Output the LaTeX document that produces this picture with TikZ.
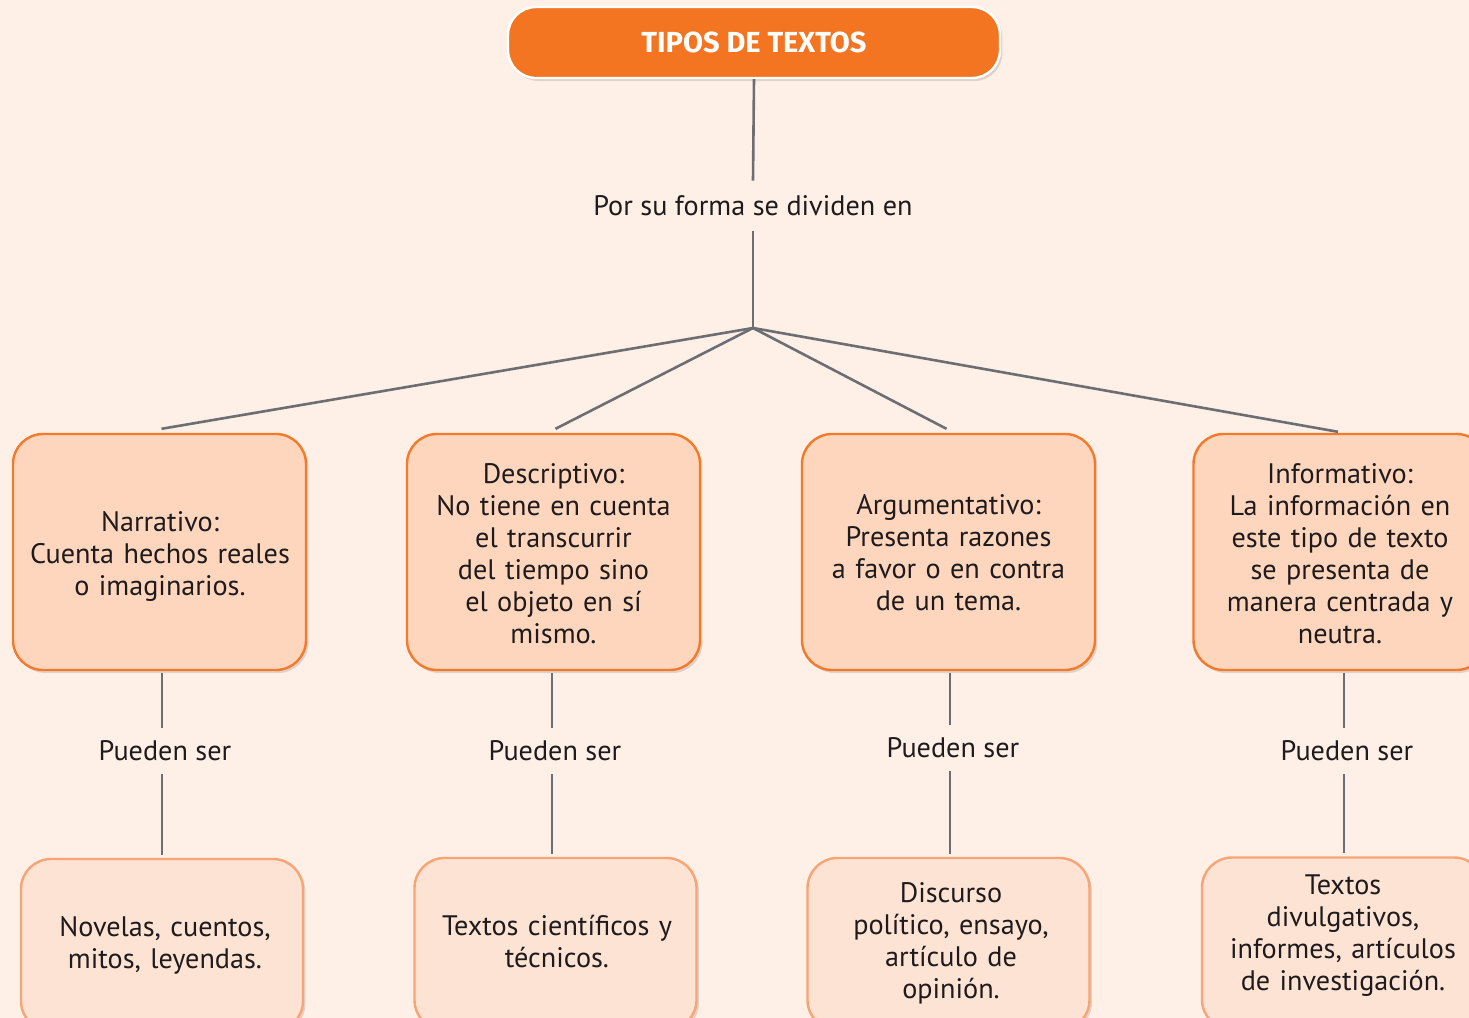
\documentclass[tikz,border=0pt]{standalone}
\usepackage{fontspec}
\setmainfont{PT Sans}
\newfontfamily\titlefont{Fira Sans}
\usetikzlibrary{shadows,calc}
\definecolor{bg}{HTML}{FEF0E7}
\definecolor{titlefill}{HTML}{F47521}
\definecolor{upfill}{HTML}{FDD6BD}
\definecolor{upborder}{HTML}{F37A2A}
\definecolor{lowfill}{HTML}{FDE3D4}
\definecolor{lowborder}{HTML}{F8A474}
\definecolor{linegray}{HTML}{6D6E71}
\definecolor{ink}{HTML}{1F1B1C}
\newcommand{\bodyfont}{\fontsize{14.1}{16}\selectfont}
\begin{document}
\begin{tikzpicture}[x=0.5pt,y=-0.5pt,
  conn/.style={draw=linegray,line width=1.3pt},
  shad/.style={drop shadow={shadow xshift=1.2pt,shadow yshift=-1.5pt,opacity=0.12,fill=black}},
  titlebox/.style={draw=white,line width=1.2pt,fill=titlefill,rounded corners=14pt,
    minimum width=246pt,minimum height=35.5pt,inner sep=0pt,text=white,
    font=\titlefont\bfseries\fontsize{14.5}{17}\selectfont,shad},
  upbox/.style={draw=upborder,line width=1.2pt,fill=upfill,rounded corners=15pt,
    minimum width=146.5pt,minimum height=118pt,inner sep=0pt,shad},
  lowbox/.style={draw=lowborder,line width=1.2pt,fill=lowfill,rounded corners=15pt,
    minimum width=141pt,minimum height=86pt,inner sep=0pt,shad},
  boxtext/.style={text width=145pt,align=center,inner sep=0pt,font=\bodyfont,text=ink},
  lab/.style={inner sep=0pt,font=\bodyfont,text=ink,minimum height=23pt},
]
\useasboundingbox (0,0) rectangle (1469,1018);
\clip (0,0) rectangle (1469,1018);
\fill[bg] (0,0) rectangle (1469,1018);

% title
\node[titlebox] (t) at (754,42.5) {TIPOS DE TEXTOS};
\node[lab,minimum height=25pt] (p0) at (753,206) {Por su forma se dividen en};
\coordinate (j) at (753,328);

% upper boxes
\node[upbox] (n1) at (159.5,552) {};
\node[upbox] (n2) at (553.5,552) {};
\node[upbox] (n3) at (948.5,552) {};
\node[upbox] (n4) at (1340,552) {};
\node[boxtext] (nt1) at (160,556) {Narrativo:\\Cuenta hechos reales\\o imaginarios.};
\node[boxtext] (nt2) at (553.5,554) {Descriptivo:\\No tiene en cuenta\\el transcurrir\\del tiempo sino\\el objeto en sí\\mismo.};
\node[boxtext] (nt3) at (948.5,553) {Argumentativo:\\Presenta razones\\a favor o en contra\\de un tema.};
\node[boxtext] (nt4) at (1340,554) {Informativo:\\La información en\\este tipo de texto\\se presenta de\\manera centrada y\\neutra.};

% labels
\node[lab] (q1) at (165,751) {Pueden ser};
\node[lab] (q2) at (555,751) {Pueden ser};
\node[lab] (q3) at (953,748) {Pueden ser};
\node[lab] (q4) at (1347,751) {Pueden ser};

% lower boxes
\node[lowbox] (b1) at (162,945) {};
\node[lowbox] (b2) at (555.5,944) {};
\node[lowbox] (b3) at (948.5,944) {};
\node[lowbox] (b4) at (1343,943.5) {};
\node[boxtext] (bt1) at (165,945.5) {Novelas, cuentos,\\mitos, leyendas.};
\node[boxtext] (bt2) at (557,942) {Textos científicos y\\técnicos.};
\node[boxtext] (bt3) at (951,943) {Discurso\\político, ensayo,\\artículo de\\opinión.};
\node[boxtext] (bt4) at (1343,936) {Textos\\divulgativos,\\informes, artículos\\de investigación.};

% connectors
\draw[conn] (t.south) -- (p0.north);
\draw[conn] (p0.south) -- (j);
\draw[conn] (j) -- ($(n1.north)+(2,-4)$);
\draw[conn] (j) -- ($(n2.north)+(2,-4)$);
\draw[conn] (j) -- ($(n3.north)+(-2,-4)$);
\draw[conn] (j) -- ($(n4.north)+(-2,-1)$);
\foreach \i in {1,2,3,4}{
  \draw[conn] ($(q\i.north |- n\i.south)+(-3,2)$) -- ($(q\i.north)+(-3,0)$);
  \draw[conn] ($(q\i.south)+(-3,0)$) -- ($(q\i.south |- b\i.north)+(-3,-3)$);
}
\end{tikzpicture}
\end{document}
